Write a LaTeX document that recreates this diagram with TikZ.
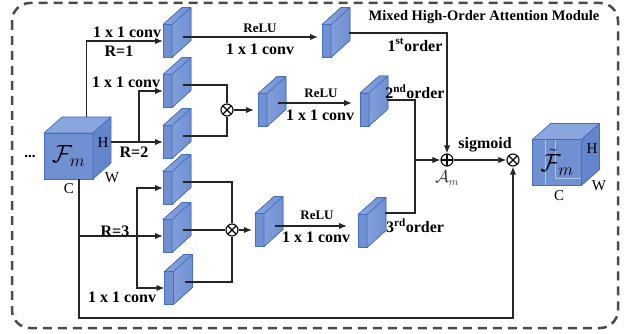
\documentclass[tikz,border=0pt]{standalone}
\usepackage{fontspec}
\setmainfont{Liberation Serif}
\usepackage{amsmath}
\usetikzlibrary{arrows.meta,calc}

\definecolor{cubeface}{RGB}{112,144,210}
\definecolor{cubetop}{RGB}{138,166,222}
\definecolor{cubeside}{RGB}{100,133,201}
\definecolor{cubeedge}{RGB}{68,110,192}
\definecolor{framegray}{RGB}{75,75,75}

\begin{document}
\begin{tikzpicture}[x=1pt,y=-1pt,
  line/.style={line width=1.4pt,black!85},
  conn/.style={line,-{Latex[length=8pt,width=6.5pt]}},
  slab/.style={draw=cubeedge,fill=cubeface,line width=0.7pt,minimum width=9pt,minimum height=33pt,inner sep=0pt,outer sep=0pt},
  slabback/.style={draw=cubeedge,line width=0.7pt,line join=round,left color=cubetop,right color=cubeface},
  cube/.style={draw=cubeedge,fill=cubeface,line width=0.7pt,minimum width=49pt,minimum height=46pt,inner sep=0pt,outer sep=0pt,font=\fontsize{24}{24}\selectfont},
  cubetopface/.style={draw=cubeedge,fill=cubetop,line width=0.7pt,line join=round},
  cubesideface/.style={draw=cubeedge,fill=cubeside,line width=0.7pt,line join=round},
  op/.style={draw,circle,line width=1.1pt,minimum size=12pt,inner sep=0pt,fill=white},
  mul/.style={op,path picture={\draw[line width=1.1pt] (path picture bounding box.north west) -- (path picture bounding box.south east) (path picture bounding box.north east) -- (path picture bounding box.south west);}},
  add/.style={op,path picture={\draw[line width=1.1pt] (path picture bounding box.north) -- (path picture bounding box.south) (path picture bounding box.west) -- (path picture bounding box.east);}},
  lbl/.style={font=\fontsize{16}{17}\selectfont\bfseries,inner sep=0pt},
  relu/.style={font=\fontsize{13}{14}\selectfont\bfseries,inner sep=0pt},
  dim/.style={font=\fontsize{15}{16}\selectfont,inner sep=0pt}]
\useasboundingbox (0,0) rectangle (629,334);
\draw[framegray,line width=2.5pt,dash pattern=on 9pt off 6pt,rounded corners=18pt] (12,3) rectangle (618,328);
\node[font=\fontsize{14.5}{15}\selectfont\bfseries,inner sep=0pt] (title) at (484,17) {Mixed High-Order Attention Module};

\node[cube] (fm) at (68.5,156) {$\mathcal{F}_{m}$};
\filldraw[cubetopface] (fm.north west) -- ++(18,-16) -- ++(49,0) -- (fm.north east) -- cycle;
\filldraw[cubesideface] (fm.north east) -- ++(18,-16) -- ++(0,46) -- (fm.south east) -- cycle;
\node[dim] (dots) at (30,156) {\textbf{...}};
\node[dim] (hin) at (103,143) {H};
\node[dim] (win) at (112,178) {W};
\node[dim] (cin) at (69,189) {C};

\node[slab] (s1) at (167.5,41) {};
\node[slab] (s2a) at (167.5,91) {};
\node[slab] (s2b) at (167.5,142) {};
\node[slab] (s3a) at (167.5,188) {};
\node[slab] (s3b) at (167.5,236) {};
\node[slab] (s3c) at (169,288) {};
\node[slab] (m2) at (262.5,110) {};
\node[slab] (m3) at (259.5,230) {};
\node[slab] (t1) at (326.5,41) {};
\node[slab] (t2) at (364.5,109.5) {};
\node[slab] (t3) at (362.5,231) {};
\filldraw[slabback] (s1.north west) -- ++(19,-17) -- ++(9,0) -- (s1.north east) -- cycle (s1.north east) -- ++(19,-17) -- ++(0,33) -- (s1.south east) -- cycle;
\filldraw[slabback] (s2a.north west) -- ++(19,-17) -- ++(9,0) -- (s2a.north east) -- cycle (s2a.north east) -- ++(19,-17) -- ++(0,33) -- (s2a.south east) -- cycle;
\filldraw[slabback] (s2b.north west) -- ++(19,-17) -- ++(9,0) -- (s2b.north east) -- cycle (s2b.north east) -- ++(19,-17) -- ++(0,33) -- (s2b.south east) -- cycle;
\filldraw[slabback] (s3a.north west) -- ++(19,-17) -- ++(9,0) -- (s3a.north east) -- cycle (s3a.north east) -- ++(19,-17) -- ++(0,33) -- (s3a.south east) -- cycle;
\filldraw[slabback] (s3b.north west) -- ++(19,-17) -- ++(9,0) -- (s3b.north east) -- cycle (s3b.north east) -- ++(19,-17) -- ++(0,33) -- (s3b.south east) -- cycle;
\filldraw[slabback] (s3c.north west) -- ++(19,-17) -- ++(9,0) -- (s3c.north east) -- cycle (s3c.north east) -- ++(19,-17) -- ++(0,33) -- (s3c.south east) -- cycle;
\filldraw[slabback] (m2.north west) -- ++(19,-17) -- ++(9,0) -- (m2.north east) -- cycle (m2.north east) -- ++(19,-17) -- ++(0,33) -- (m2.south east) -- cycle;
\filldraw[slabback] (m3.north west) -- ++(19,-17) -- ++(9,0) -- (m3.north east) -- cycle (m3.north east) -- ++(19,-17) -- ++(0,33) -- (m3.south east) -- cycle;
\filldraw[slabback] (t1.north west) -- ++(19,-17) -- ++(9,0) -- (t1.north east) -- cycle (t1.north east) -- ++(19,-17) -- ++(0,33) -- (t1.south east) -- cycle;
\filldraw[slabback] (t2.north west) -- ++(19,-17) -- ++(9,0) -- (t2.north east) -- cycle (t2.north east) -- ++(19,-17) -- ++(0,33) -- (t2.south east) -- cycle;
\filldraw[slabback] (t3.north west) -- ++(19,-17) -- ++(9,0) -- (t3.north east) -- cycle (t3.north east) -- ++(19,-17) -- ++(0,33) -- (t3.south east) -- cycle;

\node[mul] (x2) at (227,110) {};
\node[mul] (x3) at (232,230) {};
\node[add] (ap) at (447,160) {};
\node[mul] (xf) at (513,160) {};

\coordinate (fmtop) at ($(fm.north)+(18,-16)$);
\coordinate (fmside) at ($(fm.east)+(18,-14)$);
\coordinate (fmbot) at ($(fm.south)+(10.5,0)$);
\coordinate (b2) at (139,142);
\coordinate (f3) at (137,236);
\coordinate (bot) at (79,318);
\coordinate (j) at (415,160);
\coordinate (s1o) at ($(s1.east)+(11,-4)$);
\coordinate (s2ao) at ($(s2a.east)+(11,-6)$);
\coordinate (s2bo) at ($(s2b.east)+(11,-6)$);
\coordinate (s3ao) at ($(s3a.east)+(11,-6)$);
\coordinate (s3bo) at ($(s3b.east)+(11,-6)$);
\coordinate (s3co) at ($(s3c.east)+(11,-6)$);
\coordinate (m2o) at ($(m2.east)+(11,-7)$);
\coordinate (m3o) at ($(m3.east)+(11,-4)$);
\coordinate (t1o) at ($(t1.east)+(18,-8)$);
\coordinate (t2o) at ($(t2.east)+(18,-9.5)$);
\coordinate (t3o) at ($(t3.east)+(18,-18)$);

\draw[conn] (fmtop) |- (s1);
\draw[conn] (fmside) -- (s2b);
\draw[conn] (b2) |- (s2a);
\draw[conn] (fmbot) -- (bot) -| (xf);
\draw[conn] (fmbot |- s3b) -- (s3b);
\draw[conn] (f3) |- (s3a);
\draw[conn] (f3) |- (s3c);
\draw[conn,shorten >=4pt] (s1o) -- (s1o -| t1.west);
\draw[line] (s2ao) -| (x2);
\draw[line] (s2bo) -| (x2);
\draw[conn,shorten >=4pt] (x2) -- (m2);
\draw[conn,shorten >=8pt] (m2o) -- (m2o -| t2.west);
\draw[line] (s3ao) -| (x3);
\draw[line] (s3bo) -- (x3);
\draw[line] (s3co) -| (x3);
\draw[conn,shorten >=3pt] (x3) -- (m3);
\draw[conn,shorten >=11pt] (m3o) -- (m3o -| t3.west);
\draw[conn] (t1o) -| (ap);
\draw[line] (t2o) -| (j);
\draw[line] (t3o) -| (j);
\draw[conn] (j) -- (ap);
\draw[conn] (ap) -- (xf);

\node[lbl] (c1) at (127,32) {1 x 1 conv};
\node[lbl] (r1) at (119,51) {R=1};
\node[lbl] (c2) at (126,82) {1 x 1 conv};
\node[lbl] (r2) at (134,152) {R=2};
\node[lbl] (r3) at (115,231) {R=3};
\node[lbl] (c3) at (122,297) {1 x 1 conv};
\node[relu] (relu1) at (260,28) {ReLU};
\node[lbl] (k1) at (260,49) {1 x 1 conv};
\node[relu] (relu2) at (321,93) {ReLU};
\node[lbl] (k2) at (320,115) {1 x 1 conv};
\node[relu] (relu3) at (317,215) {ReLU};
\node[lbl] (k3) at (316,237) {1 x 1 conv};
\node[lbl] (o1) at (415,45) {1\textsuperscript{st}order};
\node[lbl] (o2) at (415,92) {2\textsuperscript{nd}order};
\node[lbl] (o3) at (415,226) {3\textsuperscript{rd}order};
\node[lbl] (sig) at (485,145) {sigmoid};
\node[font=\fontsize{16}{16}\selectfont,text=black!80,inner sep=0pt] (am) at (447,178) {$\mathcal{A}_{m}$};

\node[cube,path picture={\draw[white!45!cubeface,line width=0.5pt] ($(path picture bounding box.north west)+(13,0)$) -- ++(0,46) ($(path picture bounding box.north west)+(23,0)$) -- ++(0,39) -- ++(30,0);}] (fo) at (557,162.5) {$\tilde{\mathcal{F}}_{m}$};
\filldraw[cubetopface] (fo.north west) -- ++(18,-16) -- ++(49,0) -- (fo.north east) -- cycle;
\filldraw[cubesideface] (fo.north east) -- ++(18,-16) -- ++(0,46) -- (fo.south east) -- cycle;
\node[dim] (hout) at (592,149) {H};
\node[dim] (wout) at (599,186) {W};
\node[dim] (cout) at (559,196) {C};
\end{tikzpicture}
\end{document}
